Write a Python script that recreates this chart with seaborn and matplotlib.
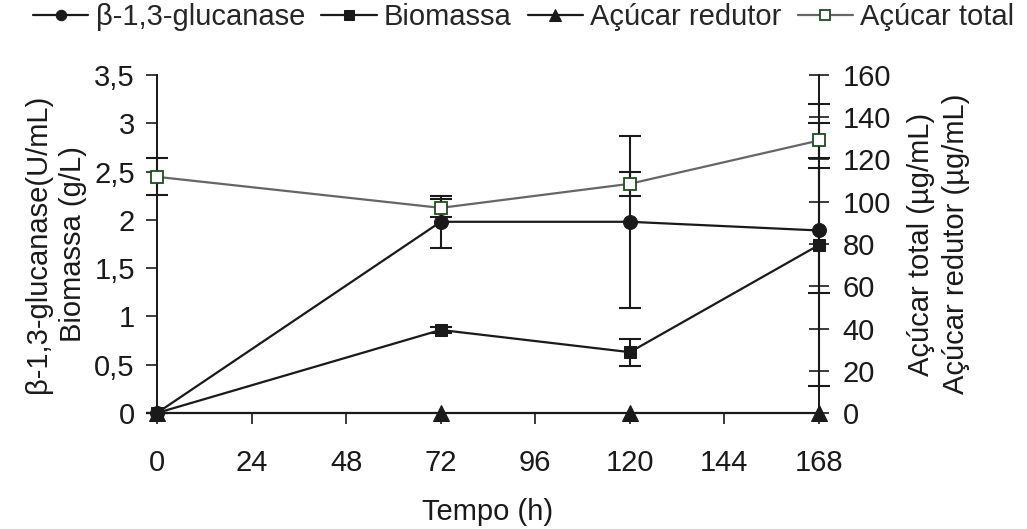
import matplotlib
matplotlib.use("Agg")
import matplotlib.pyplot as plt
import seaborn as sns
import numpy as np
from matplotlib.ticker import FuncFormatter, MultipleLocator

# ---- data ----
tempo = [0, 72, 120, 168]
glucanase = [0.0, 1.98, 1.98, 1.89]
glucanase_err = [0.0, 0.27, 0.89, 0.65]
biomassa = [0.0, 0.86, 0.63, 1.74]
biomassa_err = [0.0, 0.03, 0.14, 1.46]
acucar_redutor = [0.0, 0.0, 0.0, 0.0]
acucar_total = [111.8, 97.1, 108.5, 129.0]
acucar_total_err = [8.8, 4.3, 5.7, 8.3]

x_ticks = [0, 24, 48, 72, 96, 120, 144, 168]

sns.set_theme(style="white")
plt.rcParams["font.family"] = ["Liberation Sans", "DejaVu Sans"]
FS = 21

fig = plt.figure(figsize=(10.27, 5.29), dpi=100)
ax = fig.add_axes([157 / 1027, (529 - 413) / 529, (819 - 157) / 1027, (413 - 75) / 529])
ax2 = ax.twinx()

lw = 1.6
sns.lineplot(x=tempo, y=glucanase, ax=ax, color="#1a1a1a", lw=lw, marker="o",
             markersize=10, markeredgecolor="#1a1a1a", clip_on=False, zorder=4,
             label="β-1,3-glucanase", legend=False)
sns.lineplot(x=tempo, y=biomassa, ax=ax, color="#1a1a1a", lw=lw, marker="s",
             markersize=9, markeredgecolor="#1a1a1a", clip_on=False, zorder=4,
             label="Biomassa", legend=False)
ax.errorbar(tempo, glucanase, yerr=glucanase_err, fmt="none", ecolor="#1a1a1a",
            elinewidth=1.5, capsize=8, capthick=1.5, clip_on=False, zorder=3)
ax.errorbar(tempo, biomassa, yerr=biomassa_err, fmt="none", ecolor="#1a1a1a",
            elinewidth=1.5, capsize=8, capthick=1.5, clip_on=False, zorder=3)

sns.lineplot(x=tempo, y=acucar_redutor, ax=ax2, color="#1a1a1a", lw=lw, marker="^",
             markersize=11, markeredgecolor="#1a1a1a", clip_on=False, zorder=4,
             label="Açúcar redutor", legend=False)
sns.lineplot(x=tempo, y=acucar_total, ax=ax2, color="#666666", lw=lw, marker="s",
             markersize=9, markerfacecolor="white", markeredgecolor="#1e4d1e",
             markeredgewidth=1.3, clip_on=False, zorder=5,
             label="Açúcar total", legend=False)
ax2.errorbar(tempo, acucar_total, yerr=acucar_total_err, fmt="none", ecolor="#1a1a1a",
             elinewidth=1.5, capsize=8, capthick=1.5, clip_on=False, zorder=3)

# axes limits & ticks
ax.set_xlim(0, 168)
ax.set_ylim(0, 3.5)
ax2.set_ylim(0, 160)
ax.set_xticks(x_ticks)
ax.yaxis.set_major_locator(MultipleLocator(0.5))
ax2.yaxis.set_major_locator(MultipleLocator(20))
ax.yaxis.set_major_formatter(FuncFormatter(lambda v, p: f"{v:g}".replace(".", ",")))

for a in (ax, ax2):
    for s in a.spines.values():
        s.set_color("#1a1a1a")
        s.set_linewidth(1.3)
    a.spines["top"].set_visible(False)
    a.grid(False)

ax.tick_params(axis="y", which="major", direction="out", length=8, width=1.2,
               color="#1a1a1a", labelsize=FS, pad=8, left=True, labelcolor="#1a1a1a")
ax.tick_params(axis="x", which="major", direction="out", length=8, width=1.2,
               color="#1a1a1a", labelsize=FS, pad=18, bottom=True, labelcolor="#1a1a1a")
ax2.tick_params(axis="y", which="major", direction="inout", length=14, width=1.2,
                color="#1a1a1a", labelsize=FS, pad=10, right=True, labelcolor="#1a1a1a")

ax.set_xlabel("Tempo (h)", fontsize=FS, color="#1a1a1a", labelpad=15)
ax.set_ylabel("β-1,3-glucanase(U/mL)\nBiomassa (g/L)", fontsize=FS, color="#1a1a1a",
              multialignment="center", linespacing=1.3)
ax.yaxis.set_label_coords(-0.106, 0.5)
ax2.set_ylabel("Açúcar total (µg/mL)\nAçúcar redutor (µg/mL)", fontsize=FS,
               color="#1a1a1a", multialignment="center", linespacing=1.3)
ax2.yaxis.set_label_coords(1.133, 0.5)

h1, l1 = ax.get_legend_handles_labels()
h2, l2 = ax2.get_legend_handles_labels()
fig.legend(h1 + h2, l1 + l2, loc="center", bbox_to_anchor=(0.51, 0.967), ncol=4,
           frameon=False, fontsize=FS, handlelength=1.9, handletextpad=0.25,
           columnspacing=0.55, markerscale=0.75, borderaxespad=0)

fig.savefig("out.png", dpi=100, facecolor="white")
